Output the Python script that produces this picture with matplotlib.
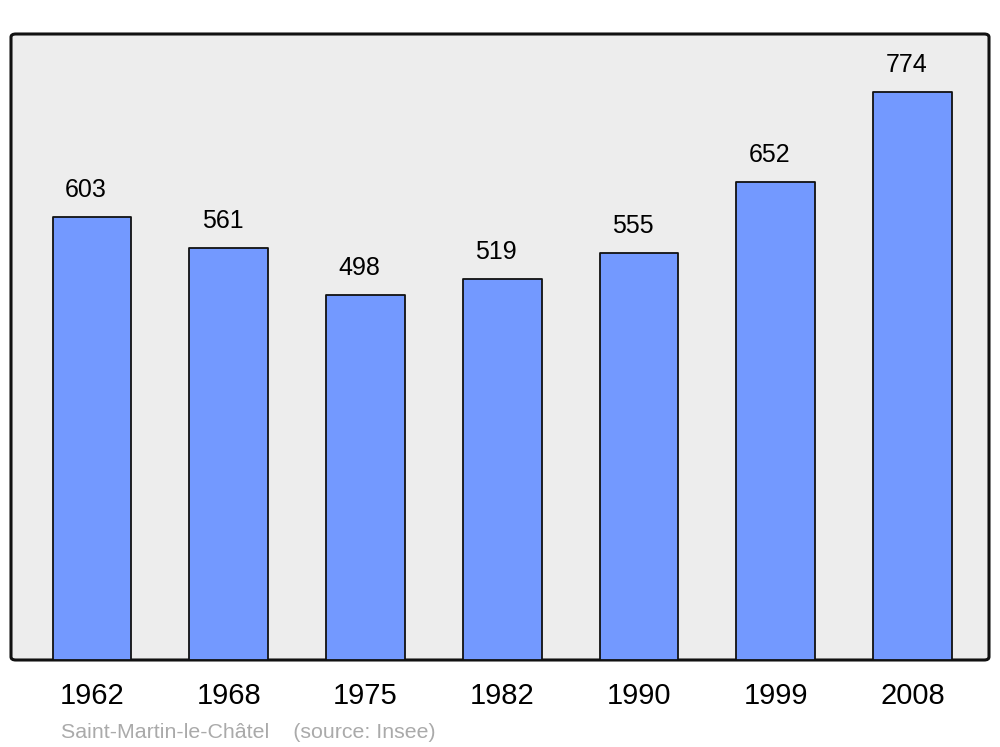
import matplotlib
matplotlib.use("Agg")
import matplotlib.pyplot as plt
from matplotlib.patches import FancyBboxPatch

years = ["1962", "1968", "1975", "1982", "1990", "1999", "2008"]
population = [603, 561, 498, 519, 555, 652, 774]
source_text = "Saint-Martin-le-Châtel    (source: Insee)"

plt.rcParams['font.family'] = ['Liberation Sans', 'DejaVu Sans']

fig = plt.figure(figsize=(10, 7.47), dpi=100)
left, right, bottom, top = 0.011, 0.989, 1 - 660 / 747, 1 - 34 / 747
ax = fig.add_axes([left, bottom, right - left, top - bottom])
ax.patch.set_visible(False)
for s in ax.spines.values():
    s.set_visible(False)

frame = FancyBboxPatch((0, 0), 1, 1,
                       boxstyle="round,pad=0,rounding_size=0.005",
                       transform=ax.transAxes, facecolor="#ededed",
                       edgecolor="#111111", linewidth=2.2, zorder=0,
                       clip_on=False)
ax.add_patch(frame)

x = list(range(len(years)))
bars = ax.bar(x, population, width=0.575, color="#7399ff",
              edgecolor="#111111", linewidth=1.3, zorder=2)
for b in bars:
    b.set_joinstyle('round')

for xi, v in zip(x, population):
    ax.annotate(str(v), (xi - 0.045, v), xytext=(0, 14.4),
                textcoords="offset points", ha="center", va="baseline",
                fontsize=18, color="black", zorder=3)

ax.set_xlim(-0.593, 6.56)
ax.set_ylim(0, 853)
ax.set_xticks(x)
ax.set_xticklabels(years, fontsize=21)
for lbl in ax.get_xticklabels():
    lbl.set_x(lbl.get_position()[0])
ax.tick_params(axis='x', length=0, pad=16)
ax.set_yticks([])

fig.text(0.061, 1 - 738 / 747, source_text, fontsize=15.4, color="#aaaaaa",
         ha="left", va="baseline")

fig.savefig("out.png", dpi=100)
